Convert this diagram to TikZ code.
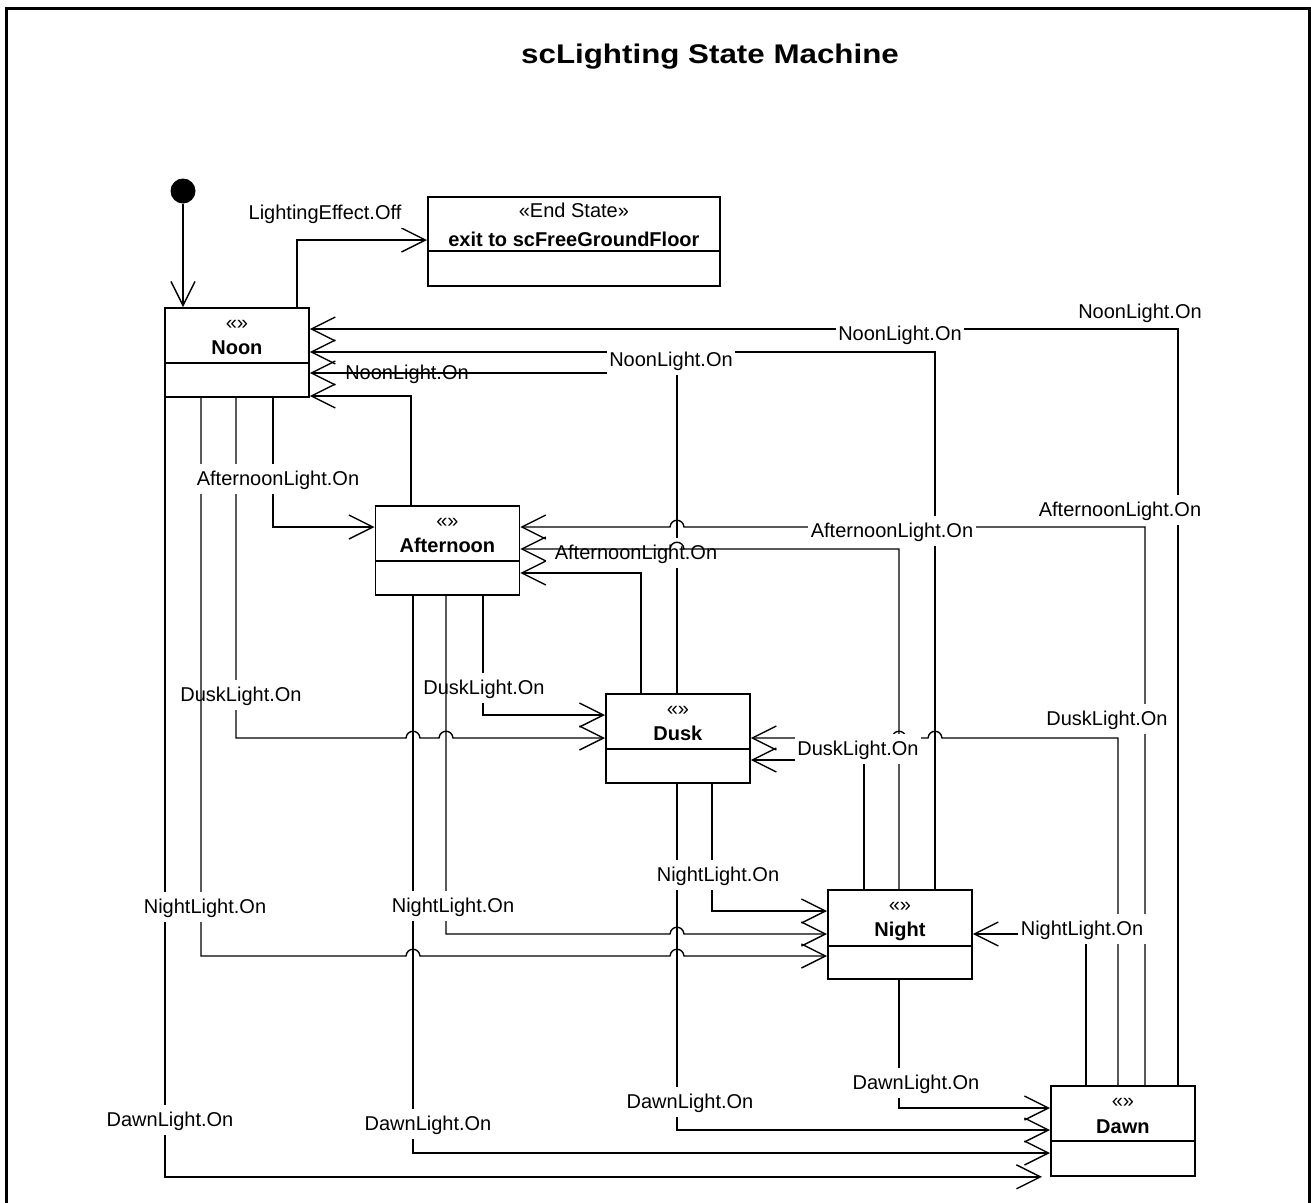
\documentclass[tikz,border=0pt]{standalone}
\usepackage{fontspec}
\setmainfont{Liberation Sans}
\usetikzlibrary{arrows.meta}
\tikzset{
  every node/.style={font=\fontsize{20pt}{24pt}\selectfont},
  statebox/.style={draw, line width=1.8pt, fill=white, anchor=north west, minimum width=144pt, minimum height=89pt, inner sep=0pt},
  divider/.style={line width=1.8pt},
  tr/.style={line width=1.4pt, -{Straight Barb[length=24pt,width=24pt]}},
  lbl/.style={fill=white, anchor=base, inner xsep=2.5pt, inner ysep=2.5pt, text height=19pt, text depth=6pt},
  stxt/.style={anchor=base},
  sname/.style={anchor=base, font=\fontsize{20pt}{24pt}\selectfont\bfseries},
  initst/.style={circle, fill=black, minimum size=25pt, inner sep=0pt},
  frame/.style={line width=3pt},
  titletext/.style={anchor=base, font=\fontsize{27pt}{32pt}\selectfont\bfseries},
}
\begin{document}
\begin{tikzpicture}[x=1pt,y=-1pt]
\useasboundingbox (0,0) rectangle (1311,1202);
\clip (0,0) rectangle (1311,1202);
\draw[frame] (6,1215) -- (6,8) -- (1309,8) -- (1309,1215);
\node[titletext] (title) at (710,63) {\scalebox{1.16}[1]{scLighting State Machine}};

% initial state
\node[initst] (init) at (183,191) {};

% end state
\node[statebox, minimum width=292pt] (endst) at (427,196) {};
\draw[divider] ([yshift=-55pt]endst.north west) -- ([yshift=-55pt]endst.north east);
\node[stxt] (endstst) at ([yshift=-21pt]endst.north) {«End State»};
\node[sname] (endstnm) at ([yshift=-50pt]endst.north) {exit to scFreeGroundFloor};

% states
\node[statebox] (noon) at (164,307) {};
\draw[divider] ([yshift=-56pt]noon.north west) -- ([yshift=-56pt]noon.north east);
\node[stxt] (noonst) at ([yshift=-22pt]noon.north) {«»};
\node[sname] (noonnm) at ([yshift=-47pt]noon.north) {Noon};

\node[statebox] (aft) at (374.5,505) {};
\draw[divider] ([yshift=-56pt]aft.north west) -- ([yshift=-56pt]aft.north east);
\node[stxt] (aftst) at ([yshift=-22pt]aft.north) {«»};
\node[sname] (aftnm) at ([yshift=-47pt]aft.north) {Afternoon};

\node[statebox] (dusk) at (605,693) {};
\draw[divider] ([yshift=-56pt]dusk.north west) -- ([yshift=-56pt]dusk.north east);
\node[stxt] (duskst) at ([yshift=-22pt]dusk.north) {«»};
\node[sname] (dusknm) at ([yshift=-47pt]dusk.north) {Dusk};

\node[statebox] (night) at (827,889) {};
\draw[divider] ([yshift=-57pt]night.north west) -- ([yshift=-57pt]night.north east);
\node[stxt] (nightst) at ([yshift=-22pt]night.north) {«»};
\node[sname] (nightnm) at ([yshift=-47pt]night.north) {Night};

\node[statebox, minimum height=90pt] (dawn) at (1050,1085) {};
\draw[divider] ([yshift=-56pt]dawn.north west) -- ([yshift=-56pt]dawn.north east);
\node[stxt] (dawnst) at ([yshift=-22pt]dawn.north) {«»};
\node[sname] (dawnnm) at ([yshift=-48pt]dawn.north) {Dawn};

% ---- transitions, first group ----
\draw[tr] (init.south) -- (init.south |- noon.north);
\draw[tr] (noon.north -| 297,0) |- (endst.west |- 0,240);
\draw[tr] (dawn.north -| 1178,0) |- (noon.east |- 0,329);
\draw[tr] (night.north -| 935,0) |- (noon.east |- 0,352);
\draw[tr] (aft.north -| 411,0) |- (noon.east |- 0,396);
\draw[tr] (noon.south -| 273,0) |- (aft.west |- 0,527);
\draw[tr] (dawn.north -| 1145,0) -- (1145,527) -- (684,527) .. controls (683,518) and (671,518) .. (670,527) -- (aft.east |- 0,527);
\draw[tr] (dusk.north -| 641,0) |- (aft.east |- 0,573);
\draw[tr] (noon.south -| 236,0) -- (236,738) -- (406,738) .. controls (407,729) and (419,729) .. (420,738) -- (439,738) .. controls (440,729) and (452,729) .. (453,738) -- (dusk.west |- 0,738);
\draw[tr] (aft.south -| 483,0) |- (dusk.west |- 0,715);
\draw[tr] (dawn.north -| 1118,0) -- (1118,738) -- (942,738) .. controls (941,729) and (929,729) .. (928,738) -- (906,738) .. controls (905,729) and (893,729) .. (892,738) -- (dusk.east |- 0,738);
\draw[tr] (night.north -| 864,0) |- (dusk.east |- 0,760);
\draw[tr] (dusk.south -| 712,0) |- (night.west |- 0,911);
\draw[tr] (dawn.north -| 1086,0) |- (night.east |- 0,934);
\draw[tr] (night.south -| 899,0) |- (dawn.west |- 0,1108);
\draw[tr] (dusk.south -| 677,0) |- (dawn.west |- 0,1130);
\draw[tr] (aft.south -| 413,0) |- (dawn.west |- 0,1153);
\draw[tr] (noon.south -| 165,0) |- ([xshift=-8pt]dawn.south west);

% labels that later lines cross
\node[lbl] (l4) at (407,379) {NoonLight.On};
\node[lbl] (l9) at (241,701) {DuskLight.On};
\node[lbl] (l10) at (484,694) {DuskLight.On};

% lines over those labels
\draw[tr] (dusk.north -| 677,0) |- (noon.east |- 0,373);
\draw[tr] (aft.south -| 446,0) -- (446,934) -- (670,934) .. controls (671,925) and (683,925) .. (684,934) -- (night.west |- 0,934);
\draw[tr] (noon.south -| 201,0) -- (201,956) -- (406,956) .. controls (407,947) and (419,947) .. (420,956) -- (670,956) .. controls (671,947) and (683,947) .. (684,956) -- (night.west |- 0,956);

\node[lbl] (l8) at (636,559) {AfternoonLight.On};
\draw[tr] (night.north -| 899,0) -- (899,549) -- (684,549) .. controls (683,540) and (671,540) .. (670,549) -- (aft.east |- 0,549);

% remaining labels
\node[lbl] (l0) at (325,219) {LightingEffect.Off};
\node[lbl] (l1) at (1140,318) {NoonLight.On};
\node[lbl] (l2) at (900,340) {NoonLight.On};
\node[lbl] (l3) at (671,366) {NoonLight.On};
\node[lbl] (l5) at (278,485) {AfternoonLight.On};
\node[lbl] (l6) at (1120,516) {AfternoonLight.On};
\node[lbl] (l7) at (892,537) {AfternoonLight.On};
\node[lbl] (l11) at (1107,725) {DuskLight.On};
\node[lbl] (l12) at (858,755) {DuskLight.On};
\node[lbl] (l13) at (718,881) {NightLight.On};
\node[lbl] (l14) at (453,912) {NightLight.On};
\node[lbl] (l15) at (205,913) {NightLight.On};
\node[lbl] (l16) at (1082,935) {NightLight.On};
\node[lbl] (l17) at (916,1089) {DawnLight.On};
\node[lbl] (l18) at (690,1108) {DawnLight.On};
\node[lbl] (l19) at (428,1130) {DawnLight.On};
\node[lbl] (l20) at (170,1126) {DawnLight.On};
\end{tikzpicture}
\end{document}
